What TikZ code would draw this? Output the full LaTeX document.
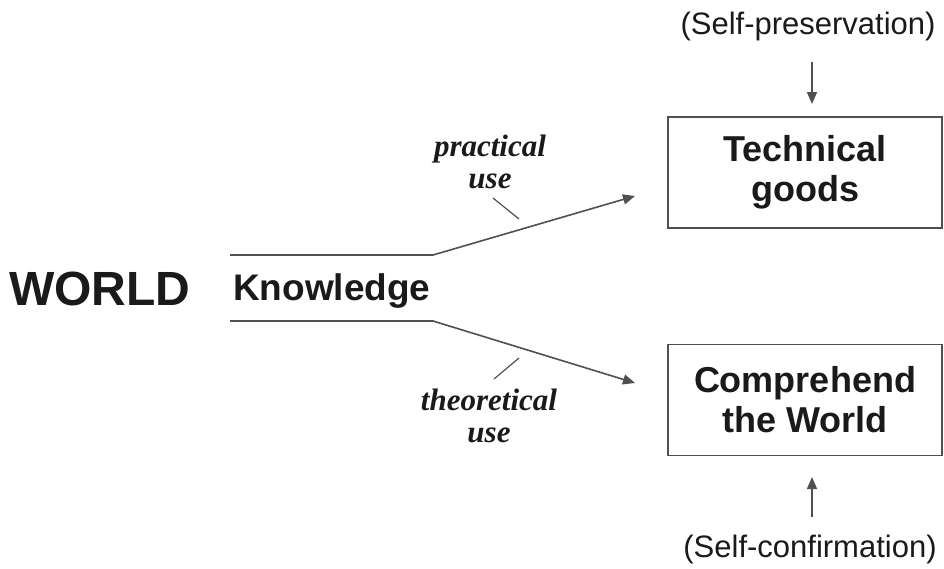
\documentclass[tikz,border=0pt]{standalone}
\usepackage{fontspec}
\setmainfont{Liberation Sans}
\newfontfamily\serifbi{Liberation Serif}[BoldItalicFont={* Bold Italic}]
\usetikzlibrary{arrows.meta}
\definecolor{ink}{HTML}{1A1A1A}
\definecolor{linegray}{HTML}{505050}
\begin{document}
\begin{tikzpicture}[x=1pt,y=-1pt,
  boxnode/.style={draw=linegray, line width=1.6pt, minimum width=274pt, minimum height=111pt,
    inner sep=0pt, align=center, text=ink, font=\fontsize{36}{40}\selectfont\bfseries},
  sidetext/.style={text=ink, inner sep=0pt, anchor=base, font=\fontsize{31}{36}\selectfont},
  lbl/.style={text=ink, inner sep=0pt, anchor=base, font=\serifbi\fontsize{31}{36}\selectfont\bfseries\itshape},
  conn/.style={draw=linegray, line width=1.6pt},
  arr/.style={conn, -{Triangle[length=12pt,width=10pt]}},
  tick/.style={draw=linegray, line width=1.2pt}
]
\useasboundingbox[fill=white] (0,0) rectangle (944,568);
% boxes
\node[boxnode] (tg) at (805,172.5) {Technical\\goods};
\node[boxnode] (cw) at (805,400) {Comprehend\\the World};
% texts
\node[sidetext] (sp) at (808,34) {(Self-preservation)};
\node[sidetext] (sc) at (810,557) {(Self-confirmation)};
\node[text=ink, inner sep=0pt, anchor=base west, font=\fontsize{48}{50}\selectfont\bfseries] (world) at (9,305) {WORLD};
\node[text=ink, inner sep=0pt, anchor=base west, font=\fontsize{37}{40}\selectfont\bfseries] (know) at (233,300) {Knowledge};
\node[lbl] (prac) at (490,156) {practical};
\node[lbl] (pracu) at (490,188) {use};
\node[lbl] (theo) at (489,410) {theoretical};
\node[lbl] (theou) at (489,442) {use};
% coordinates
\coordinate (k1a) at (230,255);
\coordinate (k1b) at (433,255);
\coordinate (k2a) at (230,321);
\coordinate (k2b) at (433,321);
\coordinate (t1) at (635,196);
\coordinate (t2) at (635,383);
\coordinate (spa) at (812,62);
\coordinate (spb) at (812,104);
\coordinate (sca) at (812,517);
\coordinate (scb) at (812,477);
\coordinate (pk1) at (493,198);
\coordinate (pk2) at (519,219);
\coordinate (tk1) at (519,358);
\coordinate (tk2) at (494,379);
% connectors
\draw[conn] (k1a) -- (k1b);
\draw[arr] (k1b) -- (t1);
\draw[conn] (k2a) -- (k2b);
\draw[arr] (k2b) -- (t2);
\draw[arr] (spa) -- (spb);
\draw[arr] (sca) -- (scb);
\draw[tick] (pk1) -- (pk2);
\draw[tick] (tk1) -- (tk2);
\end{tikzpicture}
\end{document}
